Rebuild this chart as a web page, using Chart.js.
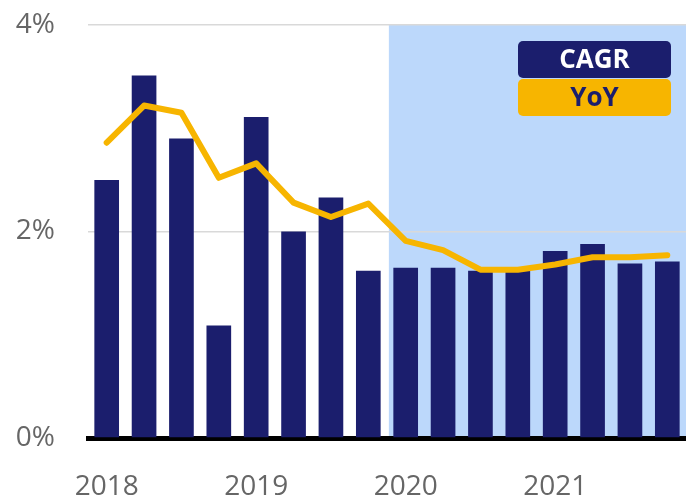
<!DOCTYPE html>
<html>
<head>
<meta charset="utf-8">
<script src="https://cdn.jsdelivr.net/npm/chart.js@4.4.0/dist/chart.umd.min.js"></script>
<style>
  html, body { margin: 0; padding: 0; background: #fff; }
  #wrap { width: 686px; height: 498px; }
</style>
</head>
<body>
<div id="wrap"><canvas id="chart"></canvas></div>
<script>
// quarters 2018 Q1 .. 2021 Q4
const quarters = ['2018 Q1','2018 Q2','2018 Q3','2018 Q4','2019 Q1','2019 Q2','2019 Q3','2019 Q4',
                  '2020 Q1','2020 Q2','2020 Q3','2020 Q4','2021 Q1','2021 Q2','2021 Q3','2021 Q4'];
const yearTicks = ['2018','','','','2019','','','','2020','','','','2021','','',''];
const cagr = [2.50, 3.51, 2.90, 1.09, 3.11, 2.00, 2.33, 1.62, 1.65, 1.65, 1.62, 1.62, 1.81, 1.88, 1.69, 1.71];
const yoy  = [2.86, 3.22, 3.15, 2.52, 2.66, 2.28, 2.14, 2.27, 1.91, 1.82, 1.63, 1.63, 1.68, 1.75, 1.75, 1.77];
const shadeFrom = 8; // first shaded quarter (2020 Q1)

const navy = '#1b1e6d';
const gold = '#f7b500';

// light blue panel behind the 2020-2021 quarters, drawn before the grid and axis
const shadePlugin = {
    id: 'shade',
    beforeDraw(chart) {
        const { ctx, chartArea, scales } = chart;
        const x0 = scales.x.getPixelForValue(shadeFrom - 0.45);
        const yTop = scales.y.getPixelForValue(4);
        const yBot = scales.y.getPixelForValue(0);
        ctx.save();
        ctx.fillStyle = '#bcd8fb';
        ctx.fillRect(x0, yTop, chartArea.right - x0, yBot - yTop);
        ctx.restore();
    }
};

// boxed legend in the top right corner
const boxLegend = {
    id: 'boxLegend',
    afterDraw(chart) {
        const { ctx } = chart;
        const items = [
            { text: 'CAGR', bg: navy, fg: '#ffffff' },
            { text: 'YoY', bg: gold, fg: navy }
        ];
        const x = 518, w = 153, h = 37;
        let y = 41;
        ctx.save();
        ctx.font = 'bold 26px "Open Sans"';
        ctx.textAlign = 'center';
        ctx.textBaseline = 'middle';
        items.forEach(it => {
            ctx.fillStyle = it.bg;
            ctx.beginPath();
            ctx.roundRect(x, y, w, h, 5);
            ctx.fill();
            ctx.fillStyle = it.fg;
            ctx.fillText(it.text, x + w / 2, y + h / 2 + 1);
            y += h + 1;
        });
        ctx.restore();
    }
};

const ctx = document.getElementById('chart').getContext('2d');
new Chart(ctx, {
    data: {
        labels: quarters,
        datasets: [
            {
                type: 'line',
                label: 'YoY',
                data: yoy,
                borderColor: gold,
                borderWidth: 6,
                borderCapStyle: 'round',
                borderJoinStyle: 'round',
                pointRadius: 0,
                tension: 0,
                order: 0
            },
            {
                type: 'bar',
                label: 'CAGR',
                data: cagr,
                backgroundColor: navy,
                barPercentage: 0.66,
                categoryPercentage: 1,
                order: 1
            }
        ]
    },
    options: {
        responsive: true,
        maintainAspectRatio: false,
        animation: false,
        layout: { padding: 0 },
        plugins: {
            legend: { display: false },
            tooltip: { enabled: false }
        },
        scales: {
            x: {
                afterFit(scale) {
                    scale.height = 60;
                    scale.paddingLeft = 0;
                    scale.paddingRight = 0;
                },
                grid: { display: false },
                border: { display: true, color: '#000', width: 5 },
                ticks: {
                    autoSkip: false,
                    maxRotation: 0,
                    padding: 24,
                    color: '#666',
                    font: { family: 'Open Sans', size: 28 },
                    callback: (v, i) => yearTicks[i]
                }
            },
            y: {
                min: 0,
                max: 4,
                afterFit(scale) {
                    scale.width = 88;
                    scale.paddingTop = 25;
                    scale.paddingBottom = 0;
                },
                grid: { color: '#d9d9d9', lineWidth: 1.5, drawTicks: false },
                border: { display: false },
                ticks: {
                    stepSize: 2,
                    padding: 33,
                    color: '#666',
                    font: { family: 'Open Sans', size: 28 },
                    callback: v => v + '%'
                }
            }
        }
    },
    plugins: [shadePlugin, boxLegend]
});
</script>
</body>
</html>
